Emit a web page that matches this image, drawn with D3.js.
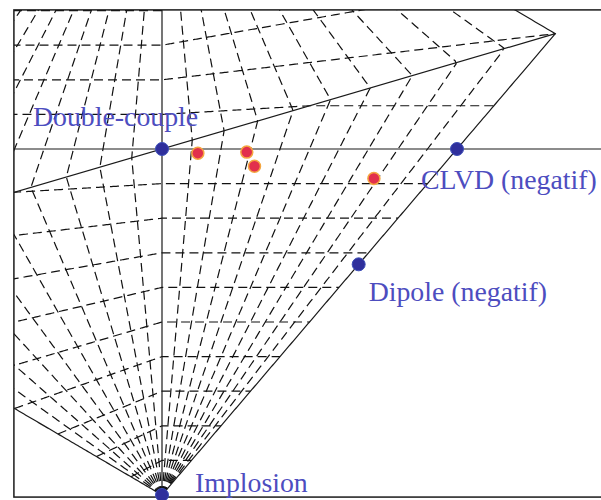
<!DOCTYPE html>
<html>
<head>
<meta charset="utf-8">
<script src="https://cdn.jsdelivr.net/npm/d3@7"></script>
<style>
  html, body { margin: 0; padding: 0; background: #fff; }
  svg { display: block; }
</style>
</head>
<body>
<svg id="chart" width="601" height="500"></svg>
<script>
// ---- Data (Hudson source-type plot, T and k coordinates) ----
const gridT = [-0.9,-0.8,-0.7,-0.6,-0.5,-0.4,-0.3,-0.2,-0.1,0.1,0.2,0.3,0.4,0.5,0.6,0.7,0.8,0.9];
const gridK = [-0.9,-0.8,-0.7,-0.6,-0.5,-0.4,-0.3,-0.2,-0.1,0.1,0.2,0.3,0.4,0.5,0.6,0.7,0.8,0.9];

// reference source types
const refNames = ["Double-couple", "CLVD (negatif)", "Dipole (negatif)", "Implosion"];
const refT = [0, 1, 1, 0];
const refK = [0, 0, -1/3, -1];

// observed events
const eventT = [0.123, 0.29, 0.33, 0.785];
const eventK = [-0.012, -0.009, -0.05, -0.085];

// ---- Hudson (T,k) -> (u,v) mapping ----
function hudson(T, k) {
  const tau = T * (1 - Math.abs(k));
  if (tau * k <= 0) return [tau, k];
  const s = Math.sign(k), t = Math.abs(tau), kk = Math.abs(k);
  let u, v;
  if (t < 4 * kk) { u = t / (1 - t / 2); v = kk / (1 - t / 2); }
  else { u = t / (1 - 2 * kk); v = kk / (1 - 2 * kk); }
  return [s * u, s * v];
}

const svg = d3.select("#chart");
const x = d3.scaleLinear().domain([0, 1]).range([162, 457]);
const y = d3.scaleLinear().domain([0, -1]).range([149, 495]);

const uMin = -0.502, uMax = 1.52, vMin = -1.006, vMax = 0.402;

svg.append("defs").append("clipPath").attr("id", "clip")
  .append("rect")
  .attr("x", x(uMin)).attr("y", y(vMax))
  .attr("width", x(uMax) - x(uMin)).attr("height", y(vMin) - y(vMax));

const plot = svg.append("g").attr("clip-path", "url(#clip)");
const line = d3.line().x(d => x(d[0])).y(d => y(d[1]));

const N = 400;
const samples = d3.range(N + 1).map(i => -1 + 2 * i / N);

// constant-T dashed lines
gridT.forEach(T => {
  plot.append("path")
    .attr("d", line(samples.map(k => hudson(T, k))))
    .attr("fill", "none").attr("stroke", "#111")
    .attr("stroke-width", 1.2).attr("stroke-dasharray", "9,5");
});
// constant-k dashed lines
gridK.forEach(k => {
  plot.append("path")
    .attr("d", line(samples.map(T => hudson(T, k))))
    .attr("fill", "none").attr("stroke", "#111")
    .attr("stroke-width", 1.2).attr("stroke-dasharray", "9,5");
});

// solid structure: diamond outline (T = +-1), diagonal, axes
[-1, 1].forEach(T => {
  plot.append("path")
    .attr("d", line(samples.map(k => hudson(T, k))))
    .attr("fill", "none").attr("stroke", "#1a1a1a").attr("stroke-width", 1.2);
});
plot.append("path")
  .attr("d", line([hudson(-1, -0.2), hudson(1, 0.2)]))
  .attr("fill", "none").attr("stroke", "#1a1a1a").attr("stroke-width", 1.2);
plot.append("path")
  .attr("d", line([[uMin, 0], [uMax, 0]]))
  .attr("fill", "none").attr("stroke", "#1a1a1a").attr("stroke-width", 1.2);
plot.append("path")
  .attr("d", line([[0, vMax], [0, vMin]]))
  .attr("fill", "none").attr("stroke", "#1a1a1a").attr("stroke-width", 1.2);

// frame
svg.append("rect")
  .attr("x", x(uMin)).attr("y", y(vMax))
  .attr("width", x(uMax) - x(uMin)).attr("height", y(vMin) - y(vMax))
  .attr("fill", "none").attr("stroke", "#1a1a1a").attr("stroke-width", 1.5);

// events
const events = eventT.map((T, i) => hudson(T, eventK[i]));
svg.append("g").selectAll("circle").data(events).join("circle")
  .attr("cx", d => x(d[0])).attr("cy", d => y(d[1])).attr("r", 6)
  .attr("fill", "#e2304c").attr("stroke", "#f4a640").attr("stroke-width", 1.5);

// reference points
const refs = refT.map((T, i) => ({ p: hudson(T, refK[i]), name: refNames[i] }));
svg.append("g").selectAll("circle").data(refs).join("circle")
  .attr("cx", d => x(d.p[0])).attr("cy", d => y(d.p[1])).attr("r", 6.5)
  .attr("fill", "#2f2f9c").attr("stroke", "#3d4fb8").attr("stroke-width", 1);

// labels (offsets from the point, in pixels)
const labelOffset = [[-129, -23], [-36, 40], [10, 37], [33, -3]];
svg.append("g").selectAll("text").data(refs).join("text")
  .attr("x", (d, i) => x(d.p[0]) + labelOffset[i][0])
  .attr("y", (d, i) => y(d.p[1]) + labelOffset[i][1])
  .attr("font-family", "'Liberation Serif', 'DejaVu Serif', serif")
  .attr("font-size", 27.8)
  .attr("fill", "#4d4dbf")
  .text(d => d.name);
</script>
</body>
</html>
